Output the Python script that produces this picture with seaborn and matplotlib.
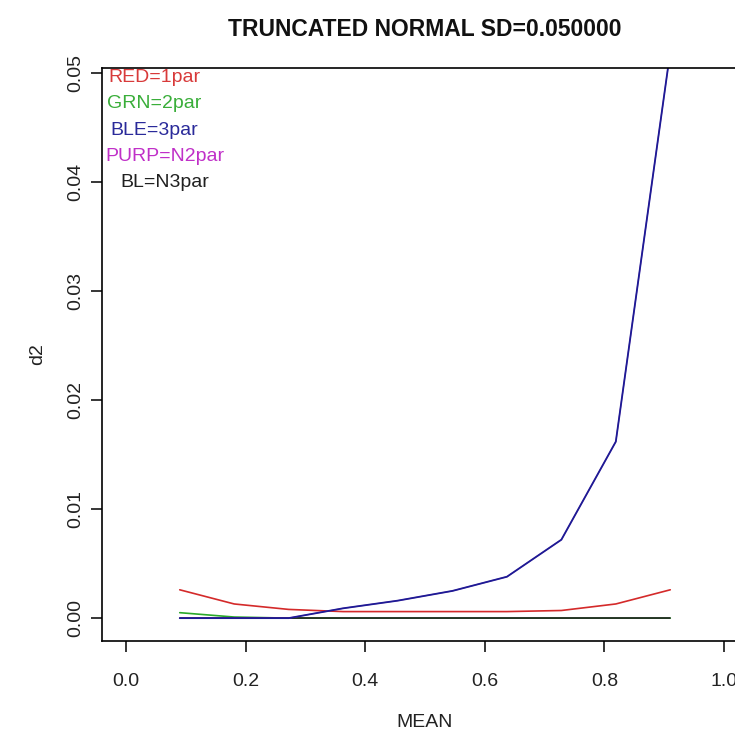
import matplotlib
matplotlib.use("Agg")
import matplotlib.pyplot as plt
import seaborn as sns
import pandas as pd

# ---- data ----
mean_vals = [0.09, 0.181, 0.272, 0.363, 0.454, 0.546, 0.637, 0.728, 0.819, 0.91]
red_1par = [0.0026, 0.0013, 0.0008, 0.0006, 0.0006, 0.0006, 0.0006, 0.0007, 0.0013, 0.0026]
grn_2par = [0.0005, 0.0001, 0.0, 0.0, 0.0, 0.0, 0.0, 0.0, 0.0, 0.0]
ble_3par = [0.0, 0.0, 0.0, 0.0009, 0.0016, 0.0025, 0.0038, 0.0072, 0.0162, 0.052]
purp_n2par = [0.0, 0.0, 0.0, 0.0009, 0.0016, 0.0025, 0.0038, 0.0072, 0.0162, 0.052]
bl_n3par = [0.0, 0.0, 0.0, 0.0, 0.0, 0.0, 0.0, 0.0, 0.0, 0.0]

x_ticks = [0.0, 0.2, 0.4, 0.6, 0.8, 1.0]
x_tick_labels = ["0.0", "0.2", "0.4", "0.6", "0.8", "1.0"]
y_ticks = [0.00, 0.01, 0.02, 0.03, 0.04, 0.05]
y_tick_labels = ["0.00", "0.01", "0.02", "0.03", "0.04", "0.05"]

legend_texts = ["RED=1par", "GRN=2par", "BLE=3par", "PURP=N2par", "BL=N3par"]
legend_x = [0.047, 0.047, 0.047, 0.065, 0.065]
legend_y = [0.0496, 0.0472, 0.0448, 0.0424, 0.0400]

title = "TRUNCATED NORMAL SD=0.050000"
xlabel = "MEAN"
ylabel = "d2"

# ---- styling ----
sns.set_style("white")
plt.rcParams["font.family"] = ["Liberation Sans", "DejaVu Sans"]

c_red = "#d42a2a"
c_grn = "#2aa82a"
c_ble = "#1c1c94"
c_purp = "#c424c4"
c_bl = "#222222"
text_colors = ["#d83a3a", "#3aae3a", "#2a2a9a", "#c030c8", "#202020"]

df = pd.DataFrame({
    "MEAN": mean_vals,
    "red": red_1par,
    "grn": grn_2par,
    "ble": ble_3par,
    "purp": purp_n2par,
    "bl": bl_n3par,
})

W, H = 735, 740
fig = plt.figure(figsize=(W / 100, H / 100), dpi=100)
ax_left, ax_right, ax_top, ax_bottom = 102, 748, 68, 641
ax = fig.add_axes([ax_left / W, 1 - ax_bottom / H, (ax_right - ax_left) / W, (ax_bottom - ax_top) / H])

lw = 1.2
sns.lineplot(data=df, x="MEAN", y="red", color=c_red, linewidth=lw, ax=ax)
sns.lineplot(data=df, x="MEAN", y="grn", color=c_grn, linewidth=lw, ax=ax)
sns.lineplot(data=df, x="MEAN", y="bl", color=c_bl, linewidth=lw, ax=ax)
sns.lineplot(data=df, x="MEAN", y="purp", color=c_purp, linewidth=lw * 0.7, ax=ax)
sns.lineplot(data=df, x="MEAN", y="ble", color=c_ble, linewidth=lw * 1.1, ax=ax)

ax.set_xlim(-0.04, 1.04)
ax.set_ylim(-0.0021, 0.0505)

ax.set_xticks(x_ticks)
ax.set_xticklabels(x_tick_labels)
ax.set_yticks(y_ticks)
ax.set_yticklabels(y_tick_labels, rotation=90, va="center")

ax.tick_params(axis="both", which="major", direction="out", length=8, width=1.1,
               color="black", labelsize=14, labelcolor="#222222",
               bottom=True, left=True, top=False, right=False)
ax.tick_params(axis="x", pad=15)
ax.tick_params(axis="y", pad=5)

for s in ax.spines.values():
    s.set_visible(True)
    s.set_color("black")
    s.set_linewidth(1.2)

ax.set_xlabel(xlabel, fontsize=14, labelpad=17, color="#222222")
ax.set_ylabel(ylabel, fontsize=14, labelpad=15, color="#222222")
ax.set_title(title, fontsize=16.5, fontweight="bold", pad=23, color="#111111")

for t, xx, yy, cc in zip(legend_texts, legend_x, legend_y, text_colors):
    ax.text(xx, yy, t, color=cc, fontsize=14, ha="center", va="center")

fig.savefig("out.png", dpi=100, facecolor="white")
